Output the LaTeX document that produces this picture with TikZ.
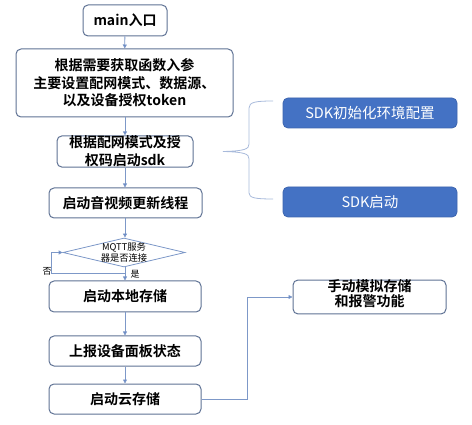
\documentclass[tikz,border=0pt]{standalone}
\usepackage{fontspec}
\setmainfont{Noto Sans CJK SC}
\newfontfamily\cjkbold{Noto Sans CJK SC Bold}
\usetikzlibrary{shapes.geometric,arrows.meta}
\definecolor{boxline}{HTML}{5F7294}
\definecolor{flowline}{HTML}{7D98C8}
\definecolor{arrowblue}{HTML}{4472C4}
\definecolor{sdkblue}{HTML}{4472C4}
\definecolor{sdkline}{HTML}{3C64AE}
\definecolor{braceline}{HTML}{A8BADB}
\tikzset{
  stepnode/.style={draw=boxline,line width=1pt,rounded corners=5pt,fill=white,
    align=center,inner sep=0pt,font=\cjkbold\fontsize{14pt}{17.5pt}\selectfont},
  sdknode/.style={draw=sdkline,line width=0.8pt,rounded corners=5pt,fill=sdkblue,
    text=white,align=center,minimum width=174pt,minimum height=30pt,
    font=\fontsize{14.5pt}{17pt}\selectfont},
  flow/.style={draw=flowline,line width=0.8pt,-{Triangle[length=4pt,width=4pt,fill=arrowblue]}},
  tag/.style={font=\fontsize{9pt}{10pt}\selectfont,inner sep=0pt}
}
\begin{document}
\begin{tikzpicture}[x=1pt,y=-1pt]
\useasboundingbox (0,0) rectangle (472,425);
% left column
\node[stepnode,minimum width=84pt,minimum height=31pt] (main) at (125,20.5) {main入口};
\node[stepnode,minimum width=217pt,minimum height=68pt] (args) at (124.5,83)
  {根据需要获取函数入参\\主要设置配网模式、数据源、\\以及设备授权token};
\node[stepnode,minimum width=136pt,minimum height=31pt,font=\cjkbold\fontsize{14pt}{18pt}\selectfont] (start) at (125,151.5)
  {根据配网模式及授\\权码启动sdk};
\node[stepnode,minimum width=153pt,minimum height=30pt] (thread) at (125.5,203) {启动音视频更新线程};
\node[draw=flowline,line width=0.8pt,shape=diamond,inner sep=0pt,minimum width=122pt,minimum height=29pt,
  label={[align=center,font=\fontsize{9.3pt}{10.5pt}\selectfont]center:MQTT服务\\器是否连接}] (mqtt) at (124,252.5) {};
\node[stepnode,minimum width=152pt,minimum height=31pt] (local) at (125,296.5) {启动本地存储};
\node[stepnode,minimum width=152pt,minimum height=30pt] (panel) at (125,351) {上报设备面板状态};
\node[stepnode,minimum width=152pt,minimum height=30pt] (cloud) at (125,399) {启动云存储};
% right column
\node[sdknode] (init) at (370,113) {SDK初始化环境配置};
\node[sdknode] (sdk) at (370,202) {SDK启动};
\node[stepnode,minimum width=153pt,minimum height=30pt,font=\cjkbold\fontsize{14pt}{15pt}\selectfont,
  text depth=7pt] (alarm) at (369.5,297) {手动模拟存储\\和报警功能};
% arrows
\draw[flow] (main) -- (args);
\draw[flow] (args.south -| main) -- (start);
\draw[flow] (start) -- (thread.north -| start);
\draw[flow] (thread.south -| start) -- (mqtt.north -| start);
\draw[flow] (mqtt.south -| start) -- (local.north -| start);
\draw[flow] (local) -- (panel);
\draw[flow] (panel) -- (cloud);
\node[tag] (yes) at (135,274.5) {是};
\coordinate (back) at (125,273.5);
\coordinate (loopcorner) at (51.5,273.5);
\draw[flow] (back) -- (loopcorner) |- (mqtt.west);
\node[tag] (no) at (47,271) {否};
\coordinate (turn) at (247,399);
\draw[flow] (cloud.east) -- (turn) |- (alarm.west);
% brace
\draw[braceline,line width=0.8pt] (273,101) .. controls (256,101) and (249,102) .. (249,108)
  -- (249,144) .. controls (249,149) and (245,151) .. (223,151.5)
  .. controls (245,152) and (249,154) .. (249,159)
  -- (249,193) .. controls (249,198) and (256,199) .. (273,199);
\end{tikzpicture}
\end{document}
